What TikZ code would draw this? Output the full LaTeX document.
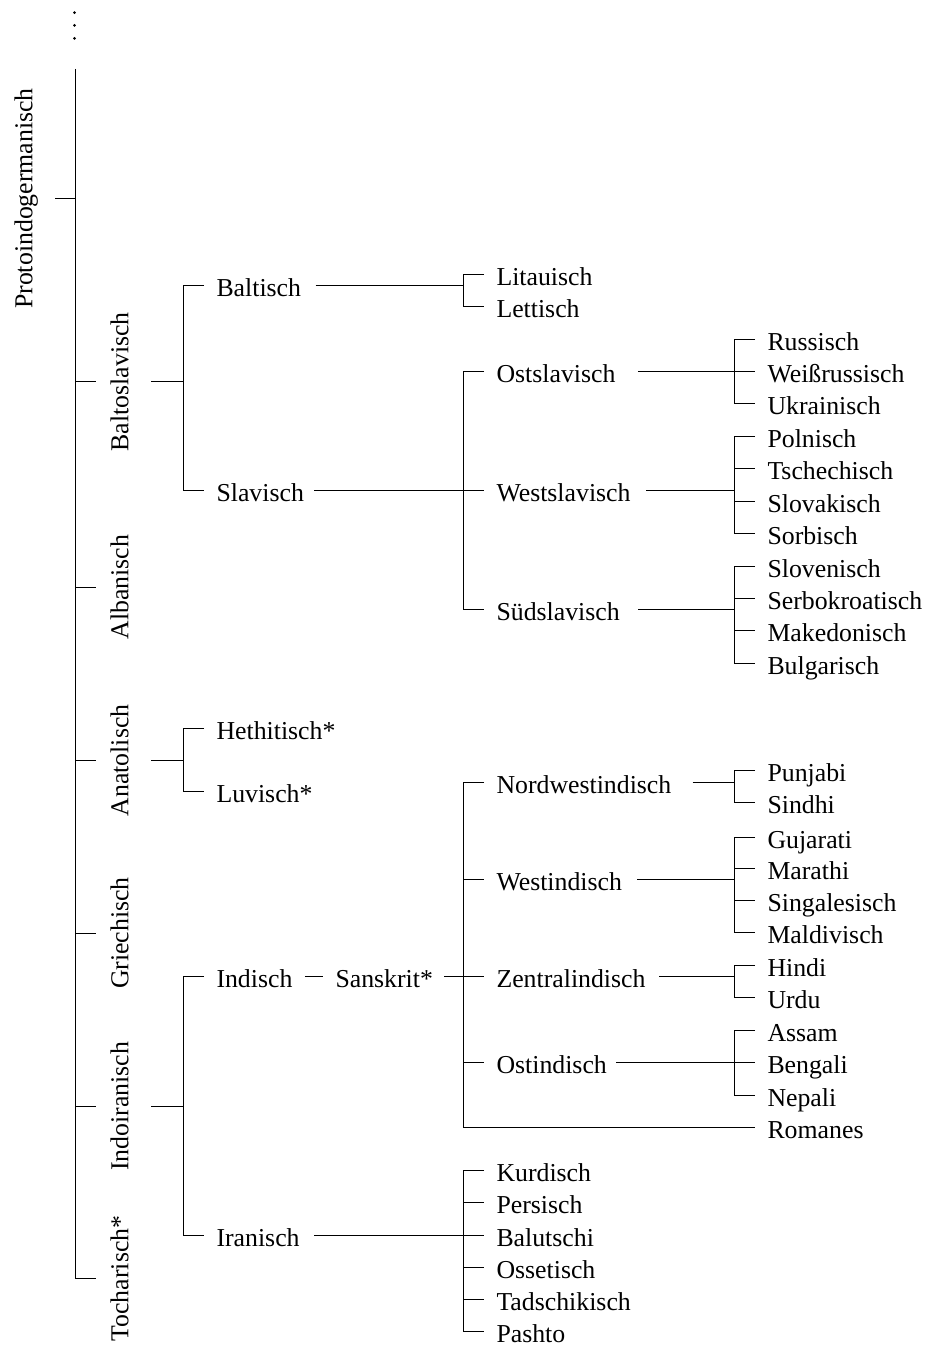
\documentclass[tikz,border=0pt]{standalone}
\usepackage{fontspec}
\setmainfont{Liberation Serif}
\begin{document}
\begin{tikzpicture}[x=1pt,y=-1pt,line width=1pt,
  lab/.style={anchor=west,inner xsep=12pt,inner ysep=0pt,text height=22pt,text depth=0pt,font=\fontsize{25.8}{30}\selectfont},
  rlab/.style={rotate=90,anchor=base,inner xsep=0pt,inner ysep=13.5pt,text height=18pt,text depth=9pt,font=\fontsize{25.8}{30}\selectfont},
  dotnode/.style={circle,fill,inner sep=0pt,minimum size=3pt}]
\useasboundingbox (0,0) rectangle (926,1348);

% dots above the root line
\node[dotnode] (d1) at (74.5,12.7) {};
\node[dotnode] (d2) at (74.5,25.5) {};
\node[dotnode] (d3) at (74.5,38.3) {};

% root
\coordinate (top) at (75,69);
\coordinate (bot) at (75,1278.5);
\node[rlab] (pie) at (32.3,198.5) {Protoindogermanisch};
\draw (top) -- (bot);
\draw (pie.south) -- (pie.south -| top);

% level 1
\node[rlab] (bsl) at (128.3,381.7) {Baltoslavisch};
\node[rlab] (alb) at (128.3,587) {Albanisch};
\node[rlab] (ana) at (128.3,760.5) {Anatolisch};
\node[rlab] (gri) at (128.3,933) {Griechisch};
\node[rlab] (iir) at (128.3,1106.5) {Indoiranisch};
\node[rlab] (toc) at (128.3,1278.5) {Tocharisch*};
\foreach \n in {bsl,alb,ana,gri,iir,toc} \draw (\n.north -| top) -- (\n.north);

\coordinate (jbsl) at (183,381.7);
\coordinate (jana) at (183,760.5);
\coordinate (jiir) at (183,1106.5);
\draw (bsl.south) -- (jbsl);
\draw (ana.south) -- (jana);
\draw (iir.south) -- (jiir);

% level 2
\node[lab] (bal) at (204,285) {Baltisch};
\node[lab] (sla) at (204,490) {Slavisch};
\node[lab] (het) at (204,728.3) {Hethitisch*};
\node[lab] (luv) at (204,791.7) {Luvisch*};
\node[lab] (ind) at (204,976.5) {Indisch};
\node[lab] (ira) at (204,1235.5) {Iranisch};
\node[lab] (san) at (323,976.5) {Sanskrit*};

\draw (bal.west) -- (bal.west -| jbsl) -- (sla.west -| jbsl) -- (sla.west);
\draw (het.west) -- (het.west -| jana) -- (luv.west -| jana) -- (luv.west);
\draw (ind.west) -- (ind.west -| jiir) -- (ira.west -| jiir) -- (ira.west);
\draw (ind.east) -- (san.west);

% level 3
\node[lab] (lit) at (484,274) {Litauisch};
\node[lab] (let) at (484,306.5) {Lettisch};
\node[lab] (osl) at (484,371.7) {Ostslavisch};
\node[lab] (wsl) at (484,490) {Westslavisch};
\node[lab] (ssl) at (484,609.3) {Südslavisch};
\node[lab] (nwi) at (484,782.3) {Nordwestindisch};
\node[lab] (win) at (484,879.3) {Westindisch};
\node[lab] (zin) at (484,976.5) {Zentralindisch};
\node[lab] (oin) at (484,1062.7) {Ostindisch};
\node[lab] (kur) at (484,1170.5) {Kurdisch};
\node[lab] (per) at (484,1202.5) {Persisch};
\node[lab] (blu) at (484,1235.5) {Balutschi};
\node[lab] (oss) at (484,1267.3) {Ossetisch};
\node[lab] (tad) at (484,1299.5) {Tadschikisch};
\node[lab] (pas) at (484,1331.7) {Pashto};

\coordinate (jbal) at (463.3,285);
\coordinate (jsla) at (463.3,490);
\coordinate (jsan) at (463.3,976.5);
\coordinate (jira) at (463.3,1235.5);

\draw ([xshift=2pt]bal.east) -- (jbal);
\draw (lit.west) -- (lit.west -| jbal) -- (let.west -| jbal) -- (let.west);

\draw ([xshift=-2pt]sla.east) -- (wsl.west);
\draw (osl.west) -- (osl.west -| jsla) -- (ssl.west -| jsla) -- (ssl.west);

% level 4
\node[lab] (rus) at (755,339) {Russisch};
\node[lab] (wru) at (755,371.7) {Weißrussisch};
\node[lab] (ukr) at (755,403.5) {Ukrainisch};
\node[lab] (pol) at (755,436) {Polnisch};
\node[lab] (tsc) at (755,468.6) {Tschechisch};
\node[lab] (slk) at (755,501) {Slovakisch};
\node[lab] (sor) at (755,533.4) {Sorbisch};
\node[lab] (slo) at (755,566) {Slovenisch};
\node[lab] (srb) at (755,598.3) {Serbokroatisch};
\node[lab] (mak) at (755,630.8) {Makedonisch};
\node[lab] (bul) at (755,663) {Bulgarisch};
\node[lab] (pun) at (755,770.7) {Punjabi};
\node[lab] (sin) at (755,802.5) {Sindhi};
\node[lab] (guj) at (755,837) {Gujarati};
\node[lab] (mar) at (755,868.5) {Marathi};
\node[lab] (sing) at (755,900.6) {Singalesisch};
\node[lab] (mal) at (755,932.7) {Maldivisch};
\node[lab] (hin) at (755,965) {Hindi};
\node[lab] (urd) at (755,997.3) {Urdu};
\node[lab] (ass) at (755,1030) {Assam};
\node[lab] (ben) at (755,1062.7) {Bengali};
\node[lab] (nep) at (755,1095) {Nepali};
\node[lab] (rom) at (755,1127.3) {Romanes};

\coordinate (josl) at (734,371.7);
\coordinate (jwsl) at (734,490);
\coordinate (jssl) at (734,609.3);
\coordinate (jnwi) at (734,782.3);
\coordinate (jwin) at (734,879.3);
\coordinate (jzin) at (734,976.5);
\coordinate (join) at (734,1062.7);

% Ostslavisch
\draw ([xshift=10pt]osl.east) -- (wru.west);
\draw (rus.west) -- (rus.west -| josl) -- (ukr.west -| josl) -- (ukr.west);
% Westslavisch
\draw ([xshift=3pt]wsl.east) -- (jwsl);
\draw (pol.west) -- (pol.west -| jwsl) -- (sor.west -| jwsl) -- (sor.west);
\draw (tsc.west -| jwsl) -- (tsc.west);
\draw (slk.west -| jwsl) -- (slk.west);
% Suedslavisch
\draw ([xshift=6pt]ssl.east) -- (jssl);
\draw (slo.west) -- (slo.west -| jssl) -- (bul.west -| jssl) -- (bul.west);
\draw (srb.west -| jssl) -- (srb.west);
\draw (mak.west -| jssl) -- (mak.west);

% Sanskrit
\draw ([xshift=-1pt]san.east) -- (zin.west);
\draw (nwi.west) -- (nwi.west -| jsan) -- (rom.west -| jsan) -- (rom.west);
\draw (win.west -| jsan) -- (win.west);
\draw (oin.west -| jsan) -- (oin.west);

% Nordwestindisch
\draw ([xshift=8.7pt]nwi.east) -- (jnwi);
\draw (pun.west) -- (pun.west -| jnwi) -- (sin.west -| jnwi) -- (sin.west);
% Westindisch
\draw ([xshift=2.7pt]win.east) -- (jwin);
\draw (guj.west) -- (guj.west -| jwin) -- (mal.west -| jwin) -- (mal.west);
\draw (mar.west -| jwin) -- (mar.west);
\draw (sing.west -| jwin) -- (sing.west);
% Zentralindisch
\draw ([xshift=1.3pt]zin.east) -- (jzin);
\draw (hin.west) -- (hin.west -| jzin) -- (urd.west -| jzin) -- (urd.west);
% Ostindisch
\draw ([xshift=-3pt]oin.east) -- (ben.west);
\draw (ass.west) -- (ass.west -| join) -- (nep.west -| join) -- (nep.west);

% Iranisch
\draw ([xshift=2.4pt]ira.east) -- (blu.west);
\draw (kur.west) -- (kur.west -| jira) -- (pas.west -| jira) -- (pas.west);
\draw (per.west -| jira) -- (per.west);
\draw (oss.west -| jira) -- (oss.west);
\draw (tad.west -| jira) -- (tad.west);
\end{tikzpicture}
\end{document}
